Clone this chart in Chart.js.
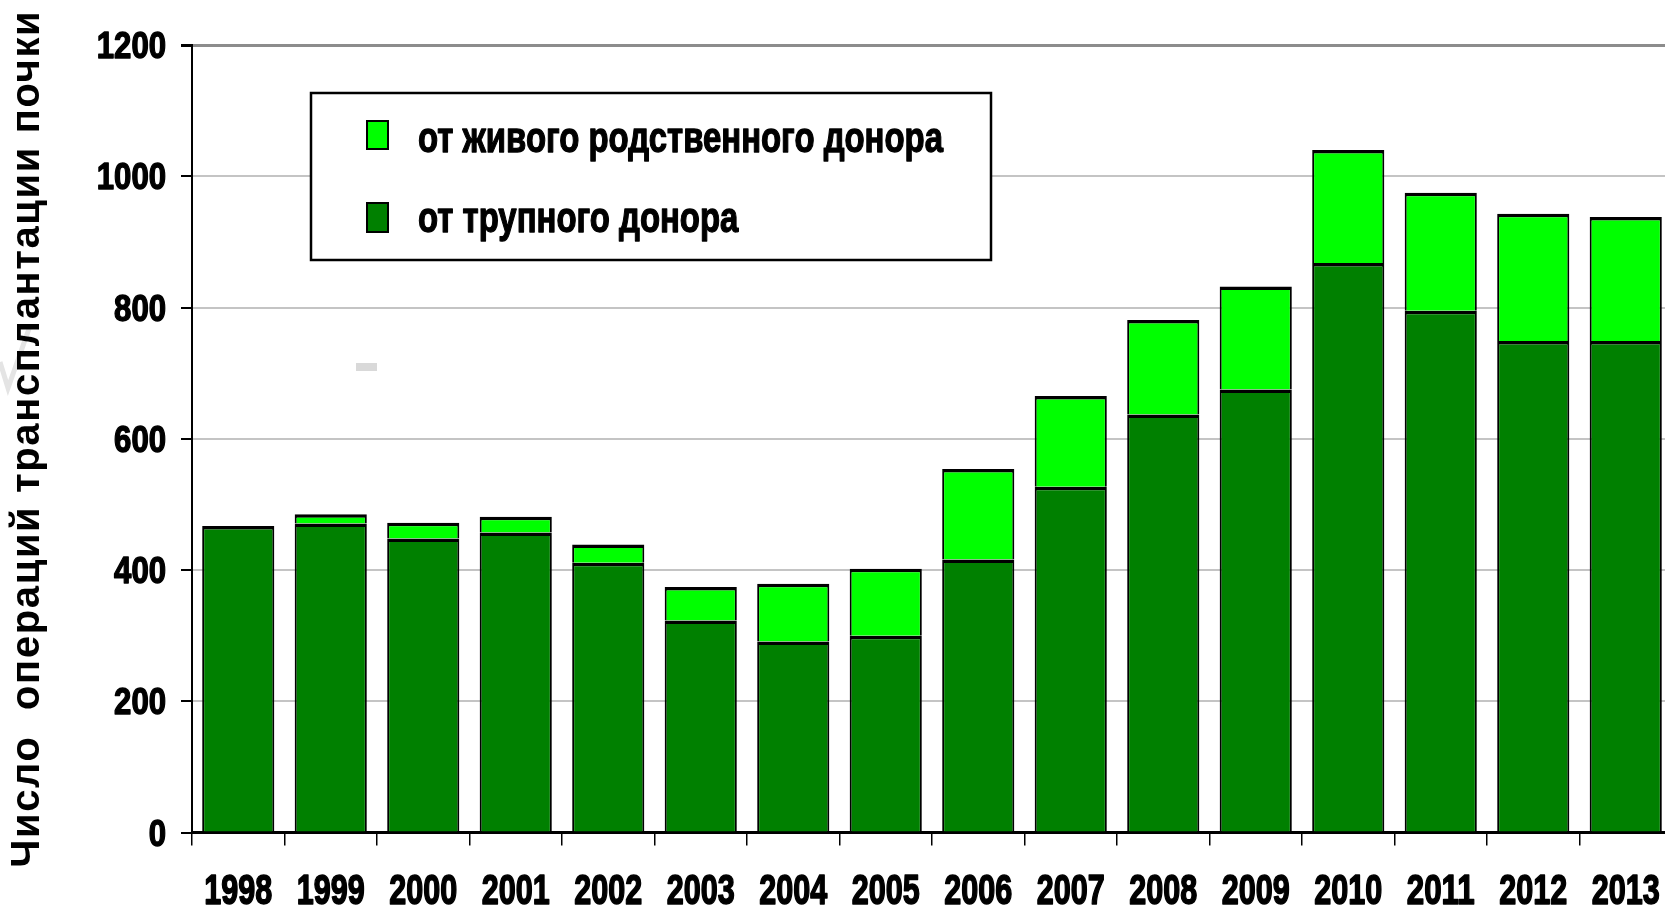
<!DOCTYPE html>
<html><head><meta charset="utf-8">
<script src="https://cdn.jsdelivr.net/npm/chart.js@4.4.1/dist/chart.umd.min.js"></script>
<style>
html,body{margin:0;padding:0;background:#fff;overflow:hidden;width:1665px;height:910px}
canvas{display:block}
</style></head>
<body>
<canvas id="c" width="1680" height="910" style="width:1680px;height:910px"></canvas>
<script>
const years = ['1998','1999','2000','2001','2002','2003','2004','2005','2006','2007','2008','2009','2010','2011','2012','2013'];
const cadaverDonor = [467, 471, 448, 457, 411, 323, 291, 300, 416, 527, 637, 675, 868, 795, 749, 749];
const livingDonor  = [0, 14, 24, 24, 28, 51, 88, 102, 138, 138, 144, 157, 172, 180, 194, 189];
const yTicks = [0, 200, 400, 600, 800, 1000, 1200];
const seriesNames = ['от трупного донора', 'от живого родственного донора'];
const seriesColors = ['#008000', '#00FF00'];
const yTitle = 'Число  операций трансплантации почки';

const FONT = '"Liberation Sans", Arial, sans-serif';

// y-title sizing: Arial-like bold with a little letter spacing
const TITLE_SIZE = 40;
const TITLE_LEN = 858;
const mctx = document.createElement('canvas').getContext('2d');
mctx.font = 'bold ' + TITLE_SIZE + 'px ' + FONT;
const titleW = mctx.measureText(yTitle).width;
const hasLS = ('letterSpacing' in mctx);
const titleSpacing = hasLS ? Math.max(0, (TITLE_LEN - titleW) / yTitle.length) : 0;
const titleSize = hasLS ? TITLE_SIZE : Math.round(TITLE_SIZE * TITLE_LEN / titleW);

function drawSquashed(ctx, text, x, y, size, targetW, align, bold) {
  ctx.save();
  ctx.font = 'bold ' + size + 'px ' + FONT;
  const w = ctx.measureText(text).width;
  const sx = targetW / w;
  ctx.translate(x, y);
  ctx.scale(sx, 1);
  ctx.textAlign = align;
  ctx.textBaseline = 'alphabetic';
  ctx.fillStyle = '#000';
  ctx.strokeStyle = '#000';
  ctx.lineJoin = 'round';
  ctx.lineWidth = bold;
  ctx.fillText(text, 0, 0);
  ctx.strokeText(text, 0, 0);
  ctx.restore();
}

const decor = {
  id: 'decor',
  beforeDraw(chart) {
    const ctx = chart.ctx;
    ctx.save();
    ctx.fillStyle = '#fff';
    ctx.fillRect(0, 0, chart.width, chart.height);
    // faint background artefacts of the original picture
    ctx.fillStyle = '#d9d9d9';
    ctx.fillRect(356, 363, 21, 8);
    ctx.strokeStyle = '#e4e4e4';
    ctx.lineWidth = 5;
    ctx.beginPath();
    ctx.moveTo(0, 362); ctx.lineTo(8, 388); ctx.lineTo(30, 326);
    ctx.stroke();
    ctx.restore();
    if (hasLS) ctx.letterSpacing = titleSpacing.toFixed(2) + 'px';
  },
  beforeDatasetsDraw(chart) {
    if (hasLS) chart.ctx.letterSpacing = '0px';
  },
  afterDraw(chart) {
    const ctx = chart.ctx;
    if (hasLS) ctx.letterSpacing = '0px';
    const xs = chart.scales.x, ys = chart.scales.y;
    // x tick labels (condensed bold)
    chart.data.labels.forEach((lab, i) => {
      drawSquashed(ctx, lab, xs.getPixelForTick(i), 904, 42, 68, 'center', 1.6);
    });
    // y tick labels
    yTicks.forEach(v => {
      const t = String(v);
      drawSquashed(ctx, t, 166, ys.getPixelForValue(v) + 13, 36, 17.3 * t.length, 'right', 1.4);
    });
    // legend box
    ctx.save();
    const bx = 311, by = 93, bw = 680, bh = 167;
    ctx.fillStyle = '#fff';
    ctx.fillRect(bx, by, bw, bh);
    ctx.strokeStyle = '#000';
    ctx.lineWidth = 2.5;
    ctx.strokeRect(bx, by, bw, bh);
    const items = chart.data.datasets.slice().reverse();
    ctx.font = 'bold 42px ' + FONT;
    const w0 = ctx.measureText(items[0].label).width;
    const sx = 525 / w0;
    const rows = [{sy: 121, sh: 28, base: 152}, {sy: 203, sh: 29, base: 232}];
    items.forEach((ds, i) => {
      const r = rows[i];
      ctx.fillStyle = ds.backgroundColor;
      ctx.fillRect(367, r.sy, 21, r.sh);
      ctx.lineWidth = 2;
      ctx.strokeStyle = '#000';
      ctx.strokeRect(367, r.sy, 21, r.sh);
      ctx.save();
      ctx.translate(418, r.base);
      ctx.scale(sx, 1);
      ctx.fillStyle = '#000';
      ctx.strokeStyle = '#000';
      ctx.lineWidth = 1.3;
      ctx.lineJoin = 'round';
      ctx.textBaseline = 'alphabetic';
      ctx.textAlign = 'left';
      ctx.fillText(ds.label, 0, 0);
      ctx.strokeText(ds.label, 0, 0);
      ctx.restore();
    });
    ctx.restore();
  }
};

new Chart(document.getElementById('c'), {
  type: 'bar',
  data: {
    labels: years,
    datasets: [
      { label: seriesNames[0], data: cadaverDonor, backgroundColor: seriesColors[0],
        borderColor: '#000', borderWidth: {top: 3.5, left: 2, right: 2, bottom: 0}, borderSkipped: false,
        barPercentage: 0.78, categoryPercentage: 1 },
      { label: seriesNames[1], data: livingDonor, backgroundColor: seriesColors[1],
        borderColor: '#000', borderWidth: {top: 3.5, left: 2, right: 2, bottom: 0}, borderSkipped: false,
        barPercentage: 0.78, categoryPercentage: 1 }
    ]
  },
  options: {
    responsive: false,
    devicePixelRatio: 1,
    animation: false,
    layout: { padding: { top: 45, right: 8, left: 0, bottom: 0 } },
    plugins: { legend: { display: false }, tooltip: { enabled: false } },
    scales: {
      x: {
        stacked: true,
        grid: { display: true, drawOnChartArea: false, drawTicks: true, tickLength: 13, color: '#000', lineWidth: 1.5, offset: true },
        border: { display: true, color: '#000', width: 3 },
        ticks: { display: false, autoSkip: false },
        afterFit: s => { s.height = 77.5; s.paddingLeft = 0; s.paddingRight = 0; }
      },
      y: {
        stacked: true,
        min: 0, max: 1200,
        afterBuildTicks: s => { s.ticks = yTicks.map(v => ({ value: v })); },
        ticks: { display: false },
        grid: {
          color: c => (c.tick && c.tick.value === 1200) ? '#8c8c8c' : (c.tick && c.tick.value === 0 ? '#000' : '#c4c4c4'),
          lineWidth: c => (c.tick && c.tick.value === 1200) ? 3 : 2,
          tickColor: '#000', tickLength: 11, drawTicks: true
        },
        border: { display: true, color: '#000', width: 2 },
        title: { display: true, text: yTitle, color: '#000', font: { family: FONT, size: titleSize, weight: 'bold' }, padding: { top: 4, bottom: 0 } },
        afterFit: s => { s.width = 192; s.paddingTop = 0; s.paddingBottom = 0; }
      }
    }
  },
  plugins: [decor]
});
</script>
</body></html>
